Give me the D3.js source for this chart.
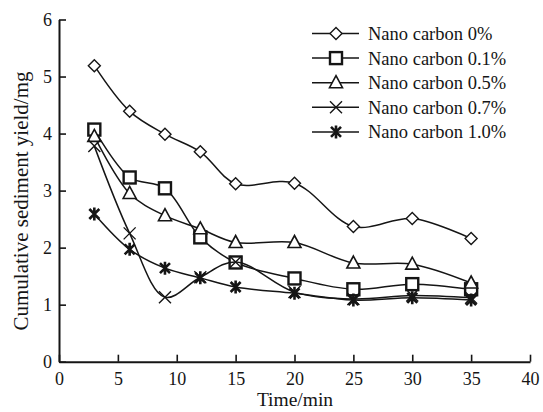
<!DOCTYPE html>
<html>
<head>
<meta charset="utf-8">
<script src="https://cdn.jsdelivr.net/npm/d3@7"></script>
<style>
  html, body { margin: 0; padding: 0; background: #fff; }
  svg { display: block; font-family: "Liberation Serif", "Times New Roman", serif; }
</style>
</head>
<body>
<svg id="chart" width="543" height="412"></svg>
<script>
// Sampling times (min)
const times = [3, 6, 9, 12, 15, 20, 25, 30, 35];

// Cumulative sediment yield (mg) per nano-carbon dosage
const nc0  = [5.19, 4.39, 3.99, 3.68, 3.12, 3.13, 2.37, 2.51, 2.16];
const nc01 = [4.07, 3.23, 3.04, 2.18, 1.74, 1.46, 1.27, 1.36, 1.27];
const nc05 = [3.95, 2.95, 2.56, 2.33, 2.09, 2.09, 1.73, 1.71, 1.38];
const nc07 = [3.78, 2.25, 1.13, 1.48, 1.75, 1.22, 1.10, 1.16, 1.12];
const nc10 = [2.59, 1.97, 1.64, 1.47, 1.31, 1.20, 1.08, 1.12, 1.08];

const seriesNames = ["Nano carbon 0%", "Nano carbon 0.1%", "Nano carbon 0.5%", "Nano carbon 0.7%", "Nano carbon 1.0%"];
const seriesValues = [nc0, nc01, nc05, nc07, nc10];
const markerKinds = ["diamond", "square", "triangle", "cross", "asterisk"];

const xTicks = [0, 5, 10, 15, 20, 25, 30, 35, 40];
const yTicks = [0, 1, 2, 3, 4, 5, 6];

const ink = "#151515";
const svg = d3.select("#chart");

const x = d3.scaleLinear().domain([0, 40]).range([59, 530]);
const y = d3.scaleLinear().domain([0, 6]).range([361.7, 19.5]);

// Axes with inward ticks
const xAxis = svg.append("g").attr("transform", `translate(0,${y(0)})`)
  .call(d3.axisBottom(x).tickValues(xTicks).tickFormat(d3.format("d"))
    .tickSize(-7).tickPadding(11).tickSizeOuter(0));
const yAxis = svg.append("g").attr("transform", `translate(${x(0)},0)`)
  .call(d3.axisLeft(y).tickValues(yTicks).tickFormat(d3.format("d"))
    .tickSize(-7).tickPadding(7).tickSizeOuter(0));

[xAxis, yAxis].forEach(g => {
  g.select(".domain").attr("stroke", ink).attr("stroke-width", 2);
  g.selectAll(".tick line").attr("stroke", ink).attr("stroke-width", 1.6);
  g.selectAll(".tick text").attr("fill", ink).attr("font-size", 18)
    .attr("font-family", "Liberation Serif, Times New Roman, serif");
});

// Axis titles
svg.append("text")
  .attr("x", 295).attr("y", 406)
  .attr("text-anchor", "middle").attr("font-size", 19.5).attr("fill", ink)
  .text("Time/min");
svg.append("text")
  .attr("transform", `translate(28,${201}) rotate(-90)`)
  .attr("text-anchor", "middle").attr("font-size", 21).attr("fill", ink)
  .text("Cumulative sediment yield/mg");

// Marker drawing
function drawMarker(g, kind, cx, cy) {
  const m = g.append("g").attr("transform", `translate(${cx},${cy})`);
  if (kind === "diamond") {
    m.append("path").attr("d", "M0,-6 L6,0 L0,6 L-6,0 Z")
      .attr("fill", "#fff").attr("stroke", ink).attr("stroke-width", 1.4);
  } else if (kind === "square") {
    m.append("rect").attr("x", -6).attr("y", -6).attr("width", 12).attr("height", 12)
      .attr("fill", "#fff").attr("stroke", ink).attr("stroke-width", 2.4);
  } else if (kind === "triangle") {
    m.append("path").attr("d", "M0,-7 L6.5,5 L-6.5,5 Z")
      .attr("fill", "#fff").attr("stroke", ink).attr("stroke-width", 1.6);
  } else if (kind === "cross") {
    m.append("path").attr("d", "M-6,-6 L6,6 M-6,6 L6,-6")
      .attr("stroke", ink).attr("stroke-width", 1.4);
  } else if (kind === "asterisk") {
    m.append("path").attr("d", "M-5,-5 L5,5 M-5,5 L5,-5 M0,-6.5 L0,6.5")
      .attr("stroke", ink).attr("stroke-width", 2.6);
  }
}

const line = d3.line()
  .x(d => x(d[0]))
  .y(d => y(d[1]))
  .curve(d3.curveCatmullRom.alpha(0.5));

seriesValues.forEach((vals, i) => {
  const pts = times.map((t, j) => [t, vals[j]]);
  const g = svg.append("g");
  g.append("path").attr("d", line(pts))
    .attr("fill", "none").attr("stroke", ink).attr("stroke-width", 1.5);
  pts.forEach(p => drawMarker(g, markerKinds[i], x(p[0]), y(p[1])));
});

// Legend
const legend = svg.append("g");
seriesNames.forEach((name, i) => {
  const ly = 33.5 + i * 24.6;
  legend.append("line").attr("x1", 312).attr("x2", 359).attr("y1", ly).attr("y2", ly)
    .attr("stroke", ink).attr("stroke-width", 1.5);
  drawMarker(legend, markerKinds[i], 336, ly);
  legend.append("text").attr("x", 368).attr("y", ly).attr("dy", "0.35em")
    .attr("font-size", 18.5).attr("fill", ink).text(name);
});
</script>
</body>
</html>
